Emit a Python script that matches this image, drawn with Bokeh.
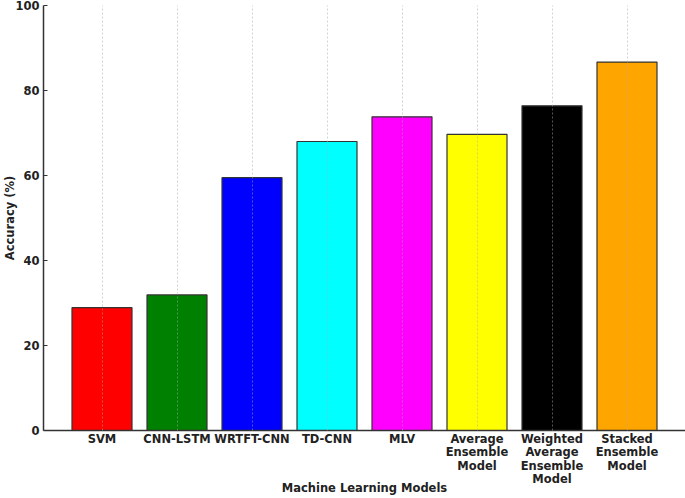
from bokeh.plotting import figure
from bokeh.models import Range1d, FixedTicker, ColumnDataSource
from bokeh.embed import file_html
from bokeh.resources import INLINE

models = ["SVM", "CNN-LSTM", "WRTFT-CNN", "TD-CNN", "MLV",
          "Average\nEnsemble\nModel", "Weighted\nAverage\nEnsemble\nModel",
          "Stacked\nEnsemble\nModel"]
accuracy = [28.9, 31.9, 59.5, 68.0, 73.8, 69.7, 76.4, 86.7]
colors = ["red", "green", "blue", "cyan", "magenta", "yellow", "black", "orange"]
y_ticks = [0, 20, 40, 60, 80, 100]

xs = list(range(len(models)))
src = ColumnDataSource(dict(x=xs, top=accuracy, color=colors))

p = figure(width=685, height=498, output_backend="svg", toolbar_location=None,
           x_range=Range1d(-0.78, 7.78), y_range=Range1d(0, 100),
           min_border_left=43, min_border_right=0, min_border_top=5, min_border_bottom=68)
p.vbar(x="x", top="top", width=0.8, bottom=0, fill_color="color",
       line_color="#333333", line_width=1.2, source=src)

p.outline_line_color = None
p.xaxis.ticker = FixedTicker(ticks=xs)
p.xaxis.major_label_overrides = {i: m for i, m in enumerate(models)}
p.yaxis.ticker = FixedTicker(ticks=y_ticks)

for ax in (p.xaxis[0], p.yaxis[0]):
    ax.axis_line_color = "#333333"
    ax.axis_line_width = 1.5
    ax.major_label_text_font = "DejaVu Sans"
    ax.major_label_text_font_style = "bold"
    ax.major_label_text_font_size = "11.5px"
    ax.major_label_text_color = "#222222"
    ax.major_label_text_line_height = 0.97
    ax.minor_tick_line_color = None
    ax.axis_label_text_font = "DejaVu Sans"
    ax.axis_label_text_font_style = "bold"
    ax.axis_label_text_font_size = "11.5px"
    ax.axis_label_text_color = "#222222"

p.xaxis.major_tick_line_color = None
p.xaxis.major_label_standoff = -5
p.yaxis.major_tick_out = 0
p.yaxis.major_tick_in = 4
p.yaxis.major_tick_line_color = "#333333"
p.yaxis.major_label_standoff = 4
p.xaxis.axis_label = "Machine Learning Models"
p.yaxis.axis_label = "Accuracy (%)"
p.xaxis.axis_label_standoff = -8
p.yaxis.axis_label_standoff = -5

p.ygrid.grid_line_color = None
p.xgrid.grid_line_color = "#aaaaaa"
p.xgrid.grid_line_alpha = 0.5
p.xgrid.grid_line_dash = "2 2"
p.xgrid.grid_line_width = 1
p.xgrid.level = "overlay"

open("out.html", "w").write(file_html(p, INLINE))
